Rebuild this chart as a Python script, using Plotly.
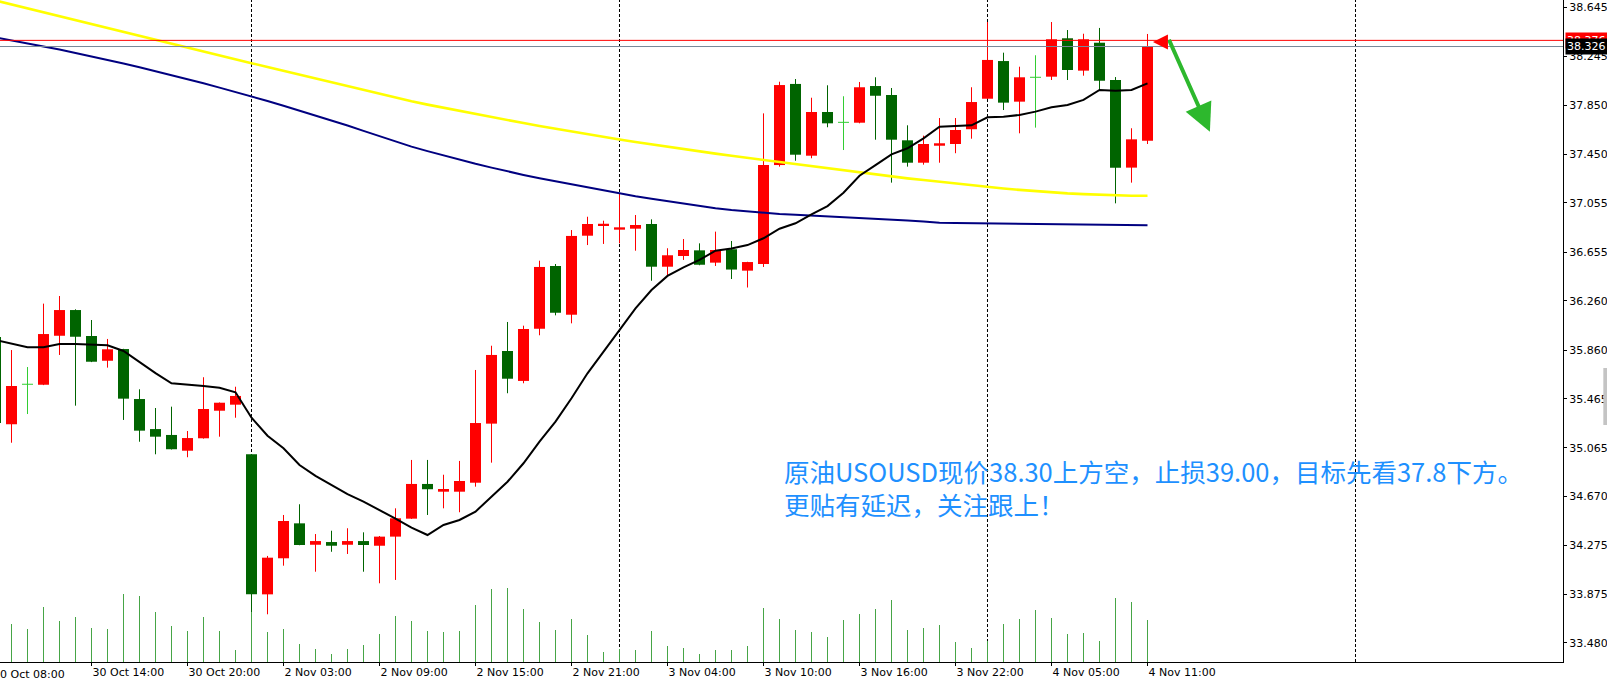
import plotly.graph_objects as go

# ---------------- data (H1 bars, 30 Oct 08:00 .. 4 Nov 11:00) ----------------
opens = [35.966, 35.257, 35.582, 35.578, 35.976, 36.185, 35.974, 35.773, 35.868, 35.462,
         35.218, 35.170, 35.042, 35.143, 35.367, 35.416, 35.013, 33.875, 34.168, 34.452,
         34.278, 34.300, 34.278, 34.308, 34.270, 34.344, 34.490, 34.772, 34.709, 34.709,
         34.782, 35.262, 35.852, 35.609, 36.033, 36.543, 36.147, 36.789, 36.870, 36.838,
         36.846, 36.884, 36.537, 36.624, 36.670, 36.570, 36.679, 36.505, 36.559, 37.363,
         38.022, 37.439, 37.794, 37.710, 37.707, 38.005, 37.932, 37.564, 37.382, 37.520,
         37.534, 37.654, 37.902, 38.208, 37.878, 38.076, 38.081, 38.393, 38.130, 38.357,
         38.054, 37.342, 37.561]
highs = [35.990, 35.860, 35.722, 36.237, 36.299, 36.191, 36.104, 35.950, 35.870, 35.541,
         35.389, 35.400, 35.202, 35.639, 35.434, 35.562, 35.015, 34.187, 34.520, 34.607,
         34.365, 34.392, 34.412, 34.379, 34.349, 34.574, 34.967, 34.967, 34.847, 34.959,
         35.698, 35.895, 36.088, 36.058, 36.586, 36.559, 36.835, 36.943, 36.911, 37.128,
         36.957, 36.922, 36.687, 36.762, 36.727, 36.822, 36.746, 36.577, 37.783, 38.040,
         38.062, 37.910, 38.011, 37.922, 38.038, 38.076, 37.989, 37.686, 37.602, 37.745,
         37.745, 37.995, 38.525, 38.276, 38.162, 38.255, 38.525, 38.460, 38.430, 38.477,
         38.078, 37.662, 38.428]
lows = [35.240, 35.107, 35.340, 35.575, 35.820, 35.408, 35.762, 35.717, 35.292, 35.115,
        35.013, 35.052, 34.989, 35.140, 35.156, 35.310, 33.455, 33.713, 34.108, 34.274,
        34.059, 34.221, 34.203, 34.059, 33.965, 33.992, 34.488, 34.520, 34.574, 34.542,
        34.750, 34.945, 35.509, 35.590, 35.980, 36.142, 36.077, 36.713, 36.722, 36.727,
        36.667, 36.423, 36.459, 36.592, 36.549, 36.543, 36.437, 36.368, 36.535, 37.350,
        37.398, 37.418, 37.670, 37.485, 37.702, 37.569, 37.220, 37.350, 37.366, 37.382,
        37.459, 37.577, 37.900, 37.810, 37.621, 37.667, 38.054, 38.054, 38.089, 37.973,
        37.052, 37.220, 37.534]
closes = [35.267, 35.568, 35.582, 35.990, 36.185, 35.968, 35.765, 35.866, 35.465, 35.205,
          35.156, 35.054, 35.145, 35.381, 35.432, 35.487, 33.875, 34.173, 34.471, 34.276,
          34.308, 34.270, 34.308, 34.276, 34.344, 34.493, 34.772, 34.729, 34.731, 34.796,
          35.267, 35.820, 35.627, 36.031, 36.535, 36.163, 36.787, 36.884, 36.886, 36.857,
          36.876, 36.537, 36.630, 36.673, 36.553, 36.673, 36.514, 36.575, 37.363, 38.013,
          37.447, 37.794, 37.702, 37.710, 37.995, 37.926, 37.569, 37.382, 37.534, 37.540,
          37.648, 37.875, 38.217, 37.870, 38.076, 38.076, 38.385, 38.135, 38.385, 38.048,
          37.342, 37.572, 38.326]
volumes = [700, 760, 660, 1100, 820, 900, 680, 660, 1360, 1320,
           1000, 720, 620, 900, 620, 240, 1000, 600, 660, 360,
           260, 160, 260, 340, 560, 920, 820, 620, 600, 620,
           1140, 1460, 1480, 1060, 800, 640, 860, 540, 200, 260,
           240, 620, 320, 280, 160, 240, 240, 320, 1080, 860,
           640, 600, 500, 840, 960, 1060, 1240, 640, 680, 740,
           400, 280, 420, 760, 860, 1040, 880, 560, 580, 420,
           1280, 1200, 840]
ma_fast = [35.942, 35.915, 35.882, 35.882, 35.909, 35.909, 35.903, 35.899, 35.852, 35.760,
           35.673, 35.590, 35.582, 35.568, 35.554, 35.517, 35.310, 35.164, 35.062, 34.926,
           34.837, 34.764, 34.690, 34.628, 34.560, 34.491, 34.417, 34.357, 34.439, 34.479,
           34.547, 34.668, 34.790, 34.940, 35.115, 35.278, 35.468, 35.671, 35.847, 36.023,
           36.199, 36.348, 36.462, 36.532, 36.592, 36.667, 36.685, 36.713, 36.768, 36.846,
           36.890, 36.963, 37.030, 37.138, 37.276, 37.363, 37.450, 37.499, 37.580, 37.675,
           37.680, 37.686, 37.751, 37.756, 37.770, 37.797, 37.832, 37.851, 37.892, 37.973,
           37.967, 37.973, 38.027]
ma_yellow = [38.700, 38.668, 38.636, 38.603, 38.571, 38.538, 38.506, 38.474, 38.442, 38.409,
             38.377, 38.347, 38.316, 38.284, 38.253, 38.222, 38.191, 38.160, 38.129, 38.098,
             38.066, 38.035, 38.004, 37.972, 37.941, 37.909, 37.881, 37.854, 37.828, 37.802,
             37.777, 37.753, 37.728, 37.704, 37.681, 37.658, 37.636, 37.614, 37.592, 37.571,
             37.551, 37.531, 37.511, 37.493, 37.474, 37.456, 37.438, 37.421, 37.404, 37.387,
             37.369, 37.352, 37.335, 37.318, 37.300, 37.285, 37.270, 37.255, 37.241, 37.226,
             37.212, 37.197, 37.182, 37.172, 37.161, 37.151, 37.140, 37.133, 37.127, 37.121,
             37.114, 37.113, 37.114]
ma_navy = [38.400, 38.377, 38.352, 38.327, 38.301, 38.274, 38.247, 38.217, 38.188, 38.157,
           38.126, 38.094, 38.061, 38.027, 37.992, 37.957, 37.921, 37.883, 37.845, 37.806,
           37.766, 37.726, 37.684, 37.641, 37.598, 37.554, 37.513, 37.476, 37.440, 37.406,
           37.373, 37.342, 37.311, 37.283, 37.256, 37.231, 37.206, 37.181, 37.155, 37.129,
           37.109, 37.090, 37.070, 37.051, 37.031, 37.012, 36.998, 36.986, 36.973, 36.966,
           36.960, 36.954, 36.948, 36.942, 36.936, 36.930, 36.921, 36.913, 36.904, 36.895,
           36.893, 36.891, 36.888, 36.887, 36.884, 36.882, 36.880, 36.878, 36.876, 36.874,
           36.874, 36.874, 36.874]

first_label = "30 Oct 08:00"
x_tick_bars = [6, 12, 18, 24, 30, 36, 42, 48, 54, 60, 66, 72]
x_tick_text = ["30 Oct 14:00", "30 Oct 20:00", "2 Nov 03:00", "2 Nov 09:00", "2 Nov 15:00",
               "2 Nov 21:00", "3 Nov 04:00", "3 Nov 10:00", "3 Nov 16:00", "3 Nov 22:00",
               "4 Nov 05:00", "4 Nov 11:00"]
day_start_bars = [16, 39, 62, 85]
y_ticks = [38.645, 38.245, 37.850, 37.450, 37.055, 36.655, 36.260, 35.860, 35.465,
           35.065, 34.670, 34.275, 33.875, 33.480]
ask_price = 38.376
bid_price = closes[-1]
note_text = "原油USOUSD现价38.30上方空，止损39.00，目标先看37.8下方。<br>更贴有延迟，关注跟上！"
arrow_tail = (73.3, 38.393)
arrow_head = (75.9, 37.634)
red_arrow_tail = (73.05, 38.363)
red_arrow_head = (72.34, 38.363)

# ---------------- figure ----------------
UP, DOWN, DOJI = "#ff0000", "#006400", "#32cd32"
VOLC = "#46a546"
n = len(opens)
idx = list(range(n))
up = [i for i in idx if closes[i] > opens[i]]
dn = [i for i in idx if closes[i] < opens[i]]
dj = [i for i in idx if closes[i] == opens[i]]

fig = go.Figure()

# volumes
vx, vy = [], []
for i in idx:
    vx += [i, i, None]
    vy += [0, volumes[i], None]
fig.add_trace(go.Scatter(x=vx, y=vy, mode="lines", line=dict(color=VOLC, width=1),
                         yaxis="y2", hoverinfo="skip"))


def wicks(sel):
    xs, ys = [], []
    for i in sel:
        xs += [i, i, None]
        ys += [lows[i], highs[i], None]
    return xs, ys


for sel, col in ((up, UP), (dn, DOWN), (dj, DOJI)):
    wx, wy = wicks(sel)
    fig.add_trace(go.Scatter(x=wx, y=wy, mode="lines", line=dict(color=col, width=1),
                             hoverinfo="skip"))

BODY_W = 0.6875
for sel, col in ((up, UP), (dn, DOWN)):
    fig.add_trace(go.Bar(x=sel, base=[min(opens[i], closes[i]) for i in sel],
                         y=[abs(closes[i] - opens[i]) for i in sel], width=BODY_W,
                         marker=dict(color=col, line=dict(width=0)), hoverinfo="skip"))

dx_, dy_ = [], []
for i in dj:
    dx_ += [i - BODY_W / 2, i + BODY_W / 2, None]
    dy_ += [opens[i], opens[i], None]
fig.add_trace(go.Scatter(x=dx_, y=dy_, mode="lines", line=dict(color=DOJI, width=1),
                         hoverinfo="skip"))

# moving averages
fig.add_trace(go.Scatter(x=idx, y=ma_navy, mode="lines", line=dict(color="#000080", width=2),
                         hoverinfo="skip"))
fig.add_trace(go.Scatter(x=idx, y=ma_yellow, mode="lines", line=dict(color="#ffff00", width=2.6),
                         hoverinfo="skip"))
fig.add_trace(go.Scatter(x=idx, y=ma_fast, mode="lines", line=dict(color="#000000", width=2),
                         hoverinfo="skip"))

shapes = []
for b in day_start_bars:
    shapes.append(dict(type="line", xref="x", yref="paper", x0=b, x1=b, y0=0, y1=1,
                       line=dict(color="black", width=1, dash="3px,2px"), layer="below"))
shapes.append(dict(type="line", xref="paper", yref="y", x0=0, x1=1, y0=ask_price, y1=ask_price,
                   line=dict(color="#ff0000", width=1)))
shapes.append(dict(type="line", xref="paper", yref="y", x0=0, x1=1, y0=bid_price, y1=bid_price,
                   line=dict(color="#778899", width=1)))
shapes.append(dict(type="rect", xref="paper", yref="paper", x0=1.0258, x1=1.04, y0=0.358, y1=0.444,
                   fillcolor="#c4c4c4", line=dict(width=0)))

annotations = [
    dict(xref="paper", yref="paper", x=0, y=0, xanchor="left", yanchor="top", xshift=-9, yshift=-4,
         text=first_label, showarrow=False, font=dict(family="DejaVu Sans", size=11, color="black")),
    dict(xref="paper", yref="y", x=1, y=ask_price, xanchor="left", yanchor="middle", xshift=2,
         text=f"{ask_price:.3f}", showarrow=False, bgcolor="#ff0000", borderpad=1,
         font=dict(family="DejaVu Sans", size=11, color="white")),
    dict(xref="paper", yref="y", x=1, y=bid_price, xanchor="left", yanchor="middle", xshift=2,
         text=f"{bid_price:.3f}", showarrow=False, bgcolor="#000000", borderpad=1,
         font=dict(family="DejaVu Sans", size=11, color="white")),
    dict(xref="paper", yref="paper", x=782 / 1563, y=1 - 487.0 / 662, xanchor="left", yanchor="middle",
         text=note_text, align="left", showarrow=False,
         font=dict(family="Noto Sans CJK SC", size=25.5, color="#1e90ff")),
    dict(xref="x", yref="y", x=arrow_head[0], y=arrow_head[1], axref="x", ayref="y",
         ax=arrow_tail[0], ay=arrow_tail[1], text="", showarrow=True, arrowhead=2,
         arrowsize=1.4, arrowwidth=4, arrowcolor="#2db82d"),
    dict(xref="x", yref="y", x=red_arrow_head[0], y=red_arrow_head[1], axref="x", ayref="y",
         ax=red_arrow_tail[0], ay=red_arrow_tail[1], text="", showarrow=True, arrowhead=2,
         arrowsize=1.5, arrowwidth=2, arrowcolor="#ff0000"),
]

PX = 16.0
x0 = 0.28125
y_top = 38.704
px_per_unit = 123.08
plot_w, plot_h = 1563, 662

fig.update_layout(
    width=1607, height=684,
    margin=dict(l=0, r=44, t=0, b=22, pad=0),
    paper_bgcolor="white", plot_bgcolor="white",
    showlegend=False, barmode="overlay",
    font=dict(family="DejaVu Sans", size=11, color="black"),
    xaxis=dict(range=[x0, x0 + plot_w / PX], tickvals=x_tick_bars, ticktext=x_tick_text,
               ticks="outside", ticklen=3, tickcolor="black", ticklabelposition="outside right",
               showgrid=False, zeroline=False, showline=True, linecolor="black", linewidth=1,
               tickfont=dict(family="DejaVu Sans", size=11, color="black"), fixedrange=True),
    yaxis=dict(range=[y_top - plot_h / px_per_unit, y_top], side="right", tickvals=y_ticks,
               ticktext=[f"{v:.3f}" for v in y_ticks], ticks="outside", ticklen=3,
               tickcolor="black", showgrid=False, zeroline=False, showline=True,
               linecolor="black", linewidth=1,
               tickfont=dict(family="DejaVu Sans", size=11, color="black"), fixedrange=True),
    yaxis2=dict(range=[0, plot_h * 20], overlaying="y", visible=False, fixedrange=True),
    shapes=shapes, annotations=annotations,
)

fig.write_html("out.html", post_script="document.body.style.margin='0';",
               config={"displayModeBar": False})
